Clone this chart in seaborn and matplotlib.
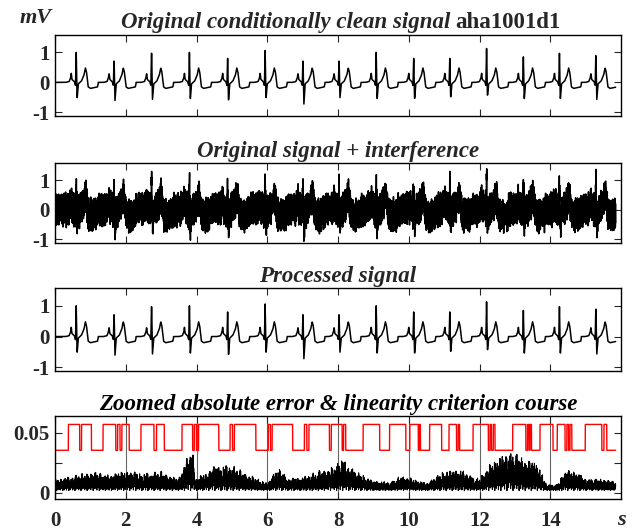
import numpy as np
import matplotlib
matplotlib.use("Agg")
import matplotlib.pyplot as plt
import seaborn as sns

# sampling of the ECG record (s)
fs = 250
t_end = 15.85

# R-peak times (s), R heights and S depths (mV)
r_times = [0.60, 1.67, 2.73, 3.80, 4.88, 5.94, 7.01, 8.03, 9.08, 10.14,
           11.16, 12.20, 13.24, 14.26, 15.29]
r_heights = [1.00, 0.80, 1.09, 1.00, 0.80, 1.06, 0.80, 0.80, 1.00, 0.80,
             0.80, 1.13, 0.85, 0.97, 1.00]
s_depths = [-0.55, -0.62, -0.58, -0.58, -0.63, -0.55, -0.74, -0.52, -0.58,
            -0.58, -0.52, -0.46, -0.58, -0.58, -0.58]

# one heartbeat shape around the R peak (relative time s, mV); R and S set per beat
beat_rel_t = [-0.45, -0.30, -0.20, -0.16, -0.14, -0.12, -0.05, -0.02, 0.0,
              0.025, 0.06, 0.15, 0.22, 0.26, 0.29, 0.34, 0.40, 0.60, 0.62]
beat_shape = [0.0, 0.0, 0.03, 0.15, 0.30, 0.10, 0.02, -0.10, None,
              None, -0.05, 0.05, 0.25, 0.48, 0.35, -0.15, -0.20, -0.15, -0.05]

# hand-typed interference samples (mV), two runs of different length
interference_a = [0.42, -0.38, 0.15, -0.45, 0.33, 0.05, -0.41, 0.47, -0.22, 0.28,
                  -0.35, 0.44, -0.12, 0.36, -0.48, 0.21, -0.30, 0.40, -0.05, -0.44,
                  0.39, -0.18, 0.46, -0.36, 0.10, -0.27, 0.43, -0.47, 0.25, -0.08,
                  0.37, -0.40, 0.18, -0.33, 0.45, -0.25, 0.02, 0.41, -0.43, 0.30,
                  -0.15, 0.48, -0.39, 0.12, -0.46, 0.34, -0.20, 0.44, -0.31, 0.07,
                  0.38, -0.42, 0.22]
interference_b = [0.05, -0.10, 0.12, 0.00, -0.08, 0.15, -0.12, 0.06, 0.10, -0.15,
                  0.02, 0.08, -0.05, 0.14, -0.02, -0.11, 0.09, 0.04, -0.14, 0.11,
                  -0.06, 0.13, -0.09, 0.01, 0.07, -0.13, 0.10, -0.04, 0.12, -0.07,
                  0.03]

# error envelope (upper edge of the black trace in the bottom panel)
err_env_t = [0.0, 0.5, 1.0, 1.5, 2.0, 2.5, 3.0, 3.5, 3.7, 3.9, 3.95, 4.5, 5.0,
             5.5, 6.0, 6.3, 6.6, 7.0, 7.5, 7.9, 8.1, 8.5, 9.0, 9.5, 9.8, 10.1,
             10.5, 11.0, 11.5, 11.9, 12.0, 12.3, 12.7, 13.0, 13.3, 13.6, 13.9,
             14.2, 14.4, 14.7, 15.0, 15.5, 15.85]
err_env_v = [0.011, 0.014, 0.018, 0.015, 0.019, 0.016, 0.018, 0.012, 0.027, 0.039,
             0.012, 0.022, 0.023, 0.015, 0.008, 0.022, 0.012, 0.013, 0.019, 0.022,
             0.028, 0.019, 0.010, 0.009, 0.015, 0.012, 0.008, 0.019, 0.019, 0.012,
             0.013, 0.024, 0.033, 0.035, 0.028, 0.027, 0.007, 0.007, 0.019, 0.018,
             0.012, 0.012, 0.009]
err_fast = [0.3, 0.9, 0.5, 0.75, 0.2, 1.0, 0.55, 0.85, 0.35, 0.7, 0.95, 0.4,
            0.0, 0.8, 0.6, 0.9, 0.25, 0.7, 0.5, 1.0, 0.3, 0.65, 0.95, 0.1,
            0.75, 0.45, 0.85, 0.35, 0.7, 1.0, 0.55, 0.2, 0.8, 0.4, 0.9, 0.6,
            0.3, 0.7, 0.05, 0.95, 0.5, 0.8, 0.25]
err_slow = [1.0, 0.7, 0.9, 0.6, 1.0, 0.75, 0.85, 0.55, 0.95, 0.7, 1.0, 0.65,
            0.8, 0.9, 0.55, 0.8, 1.0, 0.7, 0.9, 0.6, 0.75, 1.0, 0.7, 0.85,
            0.6, 0.95, 0.75, 0.65, 0.9, 0.8, 0.7]

# linearity criterion: intervals (s) where it sits on the upper level
crit_high = [(0.38, 0.70), (0.75, 1.03), (1.36, 1.72), (1.77, 1.84), (1.89, 2.10),
             (2.43, 2.80), (2.87, 3.09), (3.59, 3.89), (3.94, 4.00), (4.06, 4.63),
             (4.95, 5.02), (5.07, 5.68), (6.03, 6.09), (6.14, 6.72), (7.05, 7.12),
             (7.18, 7.76), (7.81, 8.12), (8.16, 8.22), (8.71, 9.18), (9.46, 9.92),
             (10.03, 10.27), (10.30, 10.33), (10.59, 10.93), (11.14, 11.35),
             (11.40, 11.44), (11.82, 12.25), (12.30, 12.34), (12.39, 12.44),
             (12.94, 13.31), (13.36, 13.40), (13.43, 13.47), (13.71, 14.08),
             (14.20, 14.42), (14.47, 14.52), (14.56, 14.61), (14.99, 15.46),
             (15.52, 15.60)]
crit_levels = (0.0355, 0.057)


def build_ecg(t):
    sig = np.zeros_like(t)
    rel = np.array(beat_rel_t)
    for rt, rh, sd in zip(r_times, r_heights, s_depths):
        shape = [rh if i == 8 else sd if i == 9 else v
                 for i, v in enumerate(beat_shape)]
        mask = (t >= rt + rel[0]) & (t <= rt + rel[-1])
        sig[mask] += np.interp(t[mask] - rt, rel, shape)
    return sig


t = np.arange(0, t_end, 1 / fs)
clean = build_ecg(t)
noisy = (clean + np.resize(np.array(interference_a), t.size)
         + np.resize(np.array(interference_b), t.size))
processed = clean.copy()

floor = 0.002
env = np.interp(t, err_env_t, err_env_v)
slow = np.resize(np.repeat(err_slow, 9), t.size)
fast = np.resize(np.array(err_fast), t.size)
error = floor + (env - floor) * fast * slow

crit = np.full_like(t, crit_levels[0])
for a, b in crit_high:
    crit[(t >= a) & (t < b)] = crit_levels[1]

sns.set_theme(style="ticks")
plt.rcParams["font.family"] = ["Liberation Serif", "DejaVu Serif"]
plt.rcParams["font.weight"] = "bold"

fig = plt.figure(figsize=(6.37, 5.32), dpi=100)
W, H = 637, 532
boxes = [(35, 116), (163, 243), (288, 371), (416, 499)]
axes = []
for top, bot in boxes:
    ax = fig.add_axes([55 / W, 1 - bot / H, 566 / W, (bot - top) / H])
    axes.append(ax)

title_kw = dict(fontsize=16.5, fontweight="bold", style="italic")
ecg_series = [clean, noisy, processed]
titles = ["Original conditionally clean signal", "Original signal + interference",
          "Processed signal"]
first_title = None
for ax, sig, ttl in zip(axes[:3], ecg_series, titles):
    sns.lineplot(x=t, y=sig, ax=ax, color="black", lw=1.1, estimator=None)
    ax.set_ylim(-1.12, 1.58)
    ax.set_yticks([-1, 0, 1])
    ax.set_yticklabels(["-1", "0", "1"])
    if first_title is None:
        txt = ax.text(0.5, 1.03, ttl, transform=ax.transAxes, ha="right",
                      va="bottom", **title_kw)
        tag = ax.annotate("aha1001d1", xy=(1, 0), xycoords=txt, xytext=(4, 0),
                          textcoords="offset points", ha="left", va="bottom",
                          fontsize=16.5, fontweight="bold")
        first_title = (ax, txt, tag)
    else:
        ax.set_title(ttl, pad=4, **title_kw)

ax = axes[3]
sns.lineplot(x=t, y=crit, ax=ax, color="red", lw=1.0, estimator=None)
sns.lineplot(x=t, y=error, ax=ax, color="black", lw=0.8, estimator=None)
ax.set_ylim(-0.005, 0.064)
ax.set_yticks([0, 0.025, 0.05])
ax.set_yticklabels(["0", "", "0.05"])
ax.set_title("Zoomed absolute error & linearity criterion course", pad=4,
             color="black", **title_kw)
ax.grid(axis="x", color="0.4", lw=0.8)
ax.text(1.0, -0.13, "s", transform=ax.transAxes, ha="center", va="top",
        fontsize=16, fontweight="bold", style="italic")

for i, ax in enumerate(axes):
    ax.set_xlim(0, 16)
    ax.set_xticks([0, 2, 4, 6, 8, 10, 12, 14])
    ax.set_xlabel("")
    ax.set_ylabel("")
    ax.tick_params(direction="in", top=True, right=True, length=5, width=0.8,
                   labelsize=15, pad=4)
    ax.tick_params(axis="x", pad=9)
    for sp in ax.spines.values():
        sp.set_linewidth(1.0)
        sp.set_color("black")
    if i < 3:
        ax.set_xticklabels([])
    for lab in ax.get_xticklabels() + ax.get_yticklabels():
        lab.set_fontweight("bold")

fig.text(20 / W, 1 - 18 / H, "mV", ha="left", va="center", fontsize=16,
         fontweight="bold", style="italic")

# centre the two-part first title over the panel
fig.canvas.draw()
ax0, txt, tag = first_title
r = fig.canvas.get_renderer()
b1 = txt.get_window_extent(r)
b2 = tag.get_window_extent(r)
centre = (b1.x0 + b2.x1) / 2
box0 = ax0.get_window_extent(r)
shift = (box0.x0 + box0.width * 0.505 - centre) / box0.width
txt.set_x(0.5 + shift)

fig.savefig("out.png", dpi=100)
